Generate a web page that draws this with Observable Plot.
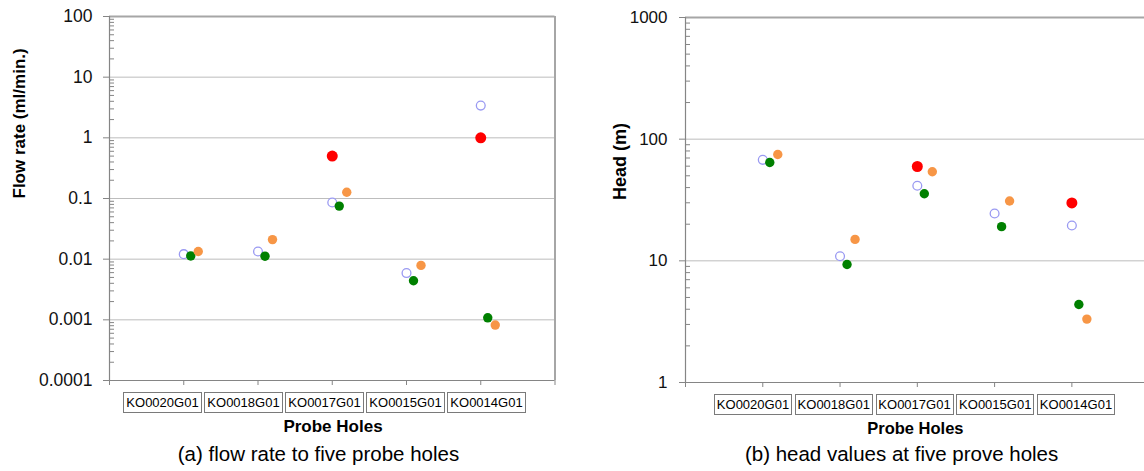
<!DOCTYPE html>
<html><head><meta charset="utf-8">
<script src="https://cdn.jsdelivr.net/npm/d3@7"></script>
<script src="https://cdn.jsdelivr.net/npm/@observablehq/plot@0.6"></script>
<style>
html,body{margin:0;padding:0;background:#fff;}
#root{position:relative;width:1144px;height:471px;overflow:hidden;font-family:"Liberation Sans",Arial,sans-serif;color:#000;background:#fff;}
.panel{position:absolute;top:0;}
.box{position:absolute;box-sizing:border-box;border:1px solid #7a7a7a;font-size:13px;display:flex;align-items:center;justify-content:center;white-space:nowrap;background:#fff;}
.xt{position:absolute;font-weight:bold;white-space:nowrap;transform:translateX(-50%);line-height:1;}
.cap{position:absolute;white-space:nowrap;transform:translateX(-50%);line-height:1;}
</style></head><body><div id="root"></div>
<script>
// ---- data ----
const holes = ["KO0020G01", "KO0018G01", "KO0017G01", "KO0015G01", "KO0014G01"];
const flowTicks = [0.0001, 0.001, 0.01, 0.1, 1, 10, 100];
const headTicks = [1, 10, 100, 1000];
const minorMultipliers = [2, 3, 4, 5, 6, 7, 8, 9];

// flow rate (ml/min.)
const flowOpen   = [0.0121, 0.0134, 0.086, 0.0059, 3.4];
const flowGreen  = [0.0113, 0.0112, 0.075, 0.0044, 0.00108];
const flowOrange = [0.0134, 0.021, 0.127, 0.0079, 0.00082];
const flowRed    = [null, null, 0.5, null, 1.0];

// head (m)
const headOpen   = [67.6, 10.9, 41.4, 24.5, 19.5];
const headGreen  = [64.3, 9.33, 35.6, 19.1, 4.38];
const headOrange = [74.8, 15.0, 54.0, 31.0, 3.32];
const headRed    = [null, null, 59.6, null, 29.9];

const xTitle = "Probe Holes";
const flowLabel = "Flow rate (ml/min.)";
const headLabel = "Head (m)";
const captionA = "(a) flow rate to five probe holes";
const captionB = "(b) head values at five prove holes";

// ---- helpers ----
const rows = vals => vals.map((v, i) => ({hole: holes[i], pos: i + 1, v})).filter(d => d.v != null);
const minorOf = ticks => ticks.slice(0, -1).flatMap(t => minorMultipliers.map(m => m * t));
const slots = d3.range(0, holes.length + 2);

const FONT = "Liberation Sans, Arial, sans-serif";
const GRID = "#bdbdbd", FRAME = "#a6a6a6", AXIS = "#858585";
const C_OPEN = "#9a9af2", C_GREEN = "#008000", C_ORANGE = "#f79646", C_RED = "#ff0000";

function panel({width, height, marginLeft, marginRight, marginTop, marginBottom, xDomain, ticks, yLabel, labelOffset,
                tickFont, labelFont, tickSize, tickPadding, open, green, orange, red, dxG, dxO, rightBorder}) {
  const lo = ticks[0], hi = ticks[ticks.length - 1];
  return Plot.plot({
    width, height, marginLeft, marginRight, marginTop, marginBottom,
    style: {fontFamily: FONT, fontSize: tickFont + "px", color: "#111", background: "transparent", overflow: "visible"},
    x: {type: "linear", domain: xDomain, axis: null},
    y: {type: "log", domain: [lo, hi], axis: null},
    marks: [
      Plot.ruleY(ticks.slice(1, -1), {stroke: GRID, strokeWidth: 1}),
      Plot.ruleY([hi], {stroke: FRAME, strokeWidth: 2}),
      rightBorder ? Plot.ruleX([xDomain[1]], {stroke: FRAME, strokeWidth: 2}) : null,
      Plot.ruleX([0], {stroke: AXIS, strokeWidth: 1.2}),
      Plot.ruleY([lo], {stroke: AXIS, strokeWidth: 1.2}),
      Plot.axisY(minorOf(ticks), {anchor: "left", tickSize: 5, dx: 5, stroke: AXIS, fill: "none", label: null}),
      Plot.axisY(ticks, {anchor: "left", tickSize, tickPadding, stroke: AXIS, fill: "#111", label: null,
                         tickFormat: d => String(d), fontSize: tickFont}),
      Plot.axisX(slots, {anchor: "bottom", tickSize: 5, stroke: AXIS, fill: "none", label: null}),
      Plot.text([yLabel], {frameAnchor: "left", rotate: -90, dx: -labelOffset, lineAnchor: "top",
                           fontWeight: "bold", fontSize: labelFont, fill: "#000"}),
      Plot.dot(rows(open), {x: "pos", y: "v", r: 4.4, stroke: C_OPEN, strokeWidth: 1.3, fill: "white"}),
      Plot.dot(rows(green), {x: "pos", y: "v", r: 4.7, fill: C_GREEN, dx: dxG}),
      Plot.dot(rows(orange), {x: "pos", y: "v", r: 4.7, fill: C_ORANGE, dx: dxO}),
      Plot.dot(rows(red), {x: "pos", y: "v", r: 5.5, fill: C_RED})
    ]
  });
}

const root = document.getElementById("root");

function place(node, left, top) {
  const wrap = document.createElement("div");
  wrap.className = "panel";
  wrap.style.left = left + "px";
  wrap.style.top = top + "px";
  wrap.appendChild(node);
  root.appendChild(wrap);
}

const left = panel({
  width: 560, height: 390, marginLeft: 109, marginRight: 5.5, marginTop: 16, marginBottom: 10,
  xDomain: [0, 6], ticks: flowTicks, yLabel: flowLabel, labelOffset: 97,
  tickFont: 17.5, labelFont: 17, tickSize: 6, tickPadding: 11,
  open: flowOpen, green: flowGreen, orange: flowOrange, red: flowRed, dxG: 7, dxO: 14.5, rightBorder: true
});
place(left, 0, 0);

const right = panel({
  width: 564, height: 392, marginLeft: 105, marginRight: 0, marginTop: 17, marginBottom: 10,
  xDomain: [0, 5.94], ticks: headTicks, yLabel: headLabel, labelOffset: 72,
  tickFont: 17, tickSize: 6, tickPadding: 12, labelFont: 18,
  open: headOpen, green: headGreen, orange: headOrange, red: headRed, dxG: 7, dxO: 15, rightBorder: false
});
place(right, 580, 0);

// category label boxes
function boxes(x0, top, w, gap, h, fs) {
  holes.forEach((name, i) => {
    const b = document.createElement("div");
    b.className = "box";
    b.style.left = (x0 + i * (w + gap)) + "px";
    b.style.top = top + "px";
    b.style.width = w + "px";
    b.style.height = h + "px";
    b.style.fontSize = fs + "px";
    b.textContent = name;
    root.appendChild(b);
  });
}
boxes(123, 392, 79, 2, 21, 13);
boxes(714, 394, 78, 2.75, 21, 13);

function label(cls, text, cx, top, fs) {
  const d = document.createElement("div");
  d.className = cls;
  d.style.left = cx + "px";
  d.style.top = top + "px";
  d.style.fontSize = fs + "px";
  d.textContent = text;
  root.appendChild(d);
}
label("xt", xTitle, 333, 418.3, 17);
label("xt", xTitle, 915.4, 419.5, 16.5);
label("cap", captionA, 318.5, 443.6, 20.5);
label("cap", captionB, 901.6, 443.6, 20.5);
</script>
</body></html>
